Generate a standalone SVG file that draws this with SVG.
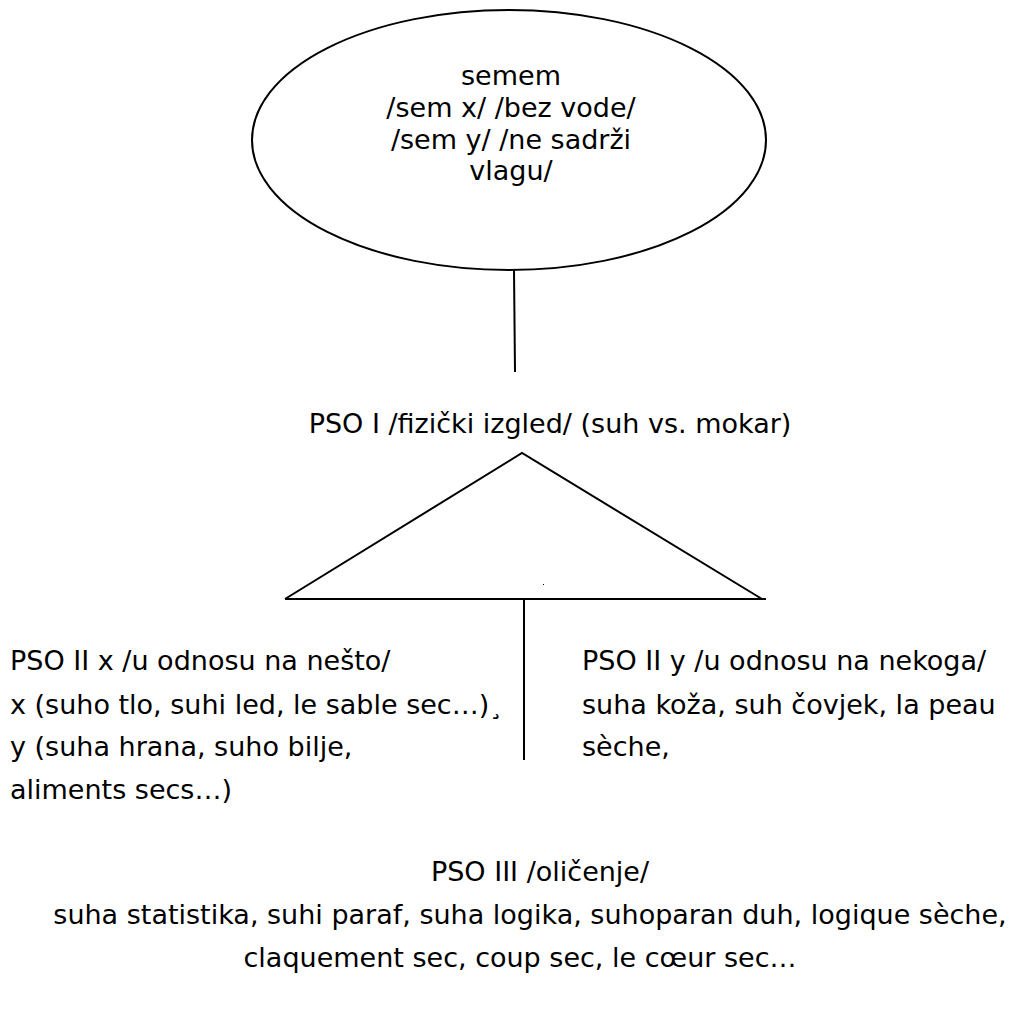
<svg xmlns="http://www.w3.org/2000/svg" width="1028" height="1012" viewBox="0 0 1028 1012">
<style>
text{font-family:"DejaVu Sans",Verdana,sans-serif;font-size:27px;fill:#000}
.c{text-anchor:middle}
.ln{stroke:#000;stroke-width:2;fill:none}
</style>
<rect width="1028" height="1012" fill="#fff"/>
<g id="connectors">
<line class="ln" x1="514" y1="270" x2="515" y2="372"/>
<line class="ln" x1="524" y1="599" x2="524" y2="760"/>
</g>
<g id="semem">
<ellipse class="ln" cx="509" cy="140" rx="257" ry="130"/>
<text class="c" x="511" y="85">semem</text>
<text class="c" x="511" y="117">/sem x/ /bez vode/</text>
<text class="c" x="511" y="149">/sem y/ /ne sadrži</text>
<text class="c" x="511" y="180">vlagu/</text>
</g>
<g id="pso1">
<text class="c" x="550" y="433">PSO I /fizički izgled/ (suh vs. mokar)</text>
<polyline class="ln" points="285,599 522,453 762,599"/>
<line class="ln" x1="285" y1="599" x2="766" y2="599"/>
<rect x="543" y="584" width="1" height="1" fill="#000"/>
</g>
<g id="pso2x">
<text x="10" y="670">PSO II x /u odnosu na nešto/</text>
<text x="10" y="714">x (suho tlo, suhi led, le sable sec…)¸</text>
<text x="10" y="756">y (suha hrana, suho bilje,</text>
<text x="10" y="799">aliments secs…)</text>
</g>
<g id="pso2y">
<text x="582" y="670">PSO II y /u odnosu na nekoga/</text>
<text x="582" y="714">suha koža, suh čovjek, la peau</text>
<text x="582" y="756">sèche,</text>
</g>
<g id="pso3">
<text class="c" x="540" y="881">PSO III /oličenje/</text>
<text class="c" x="530" y="924">suha statistika, suhi paraf, suha logika, suhoparan duh, logique sèche,</text>
<text class="c" x="520" y="967">claquement sec, coup sec, le cœur sec…</text>
</g>
</svg>
